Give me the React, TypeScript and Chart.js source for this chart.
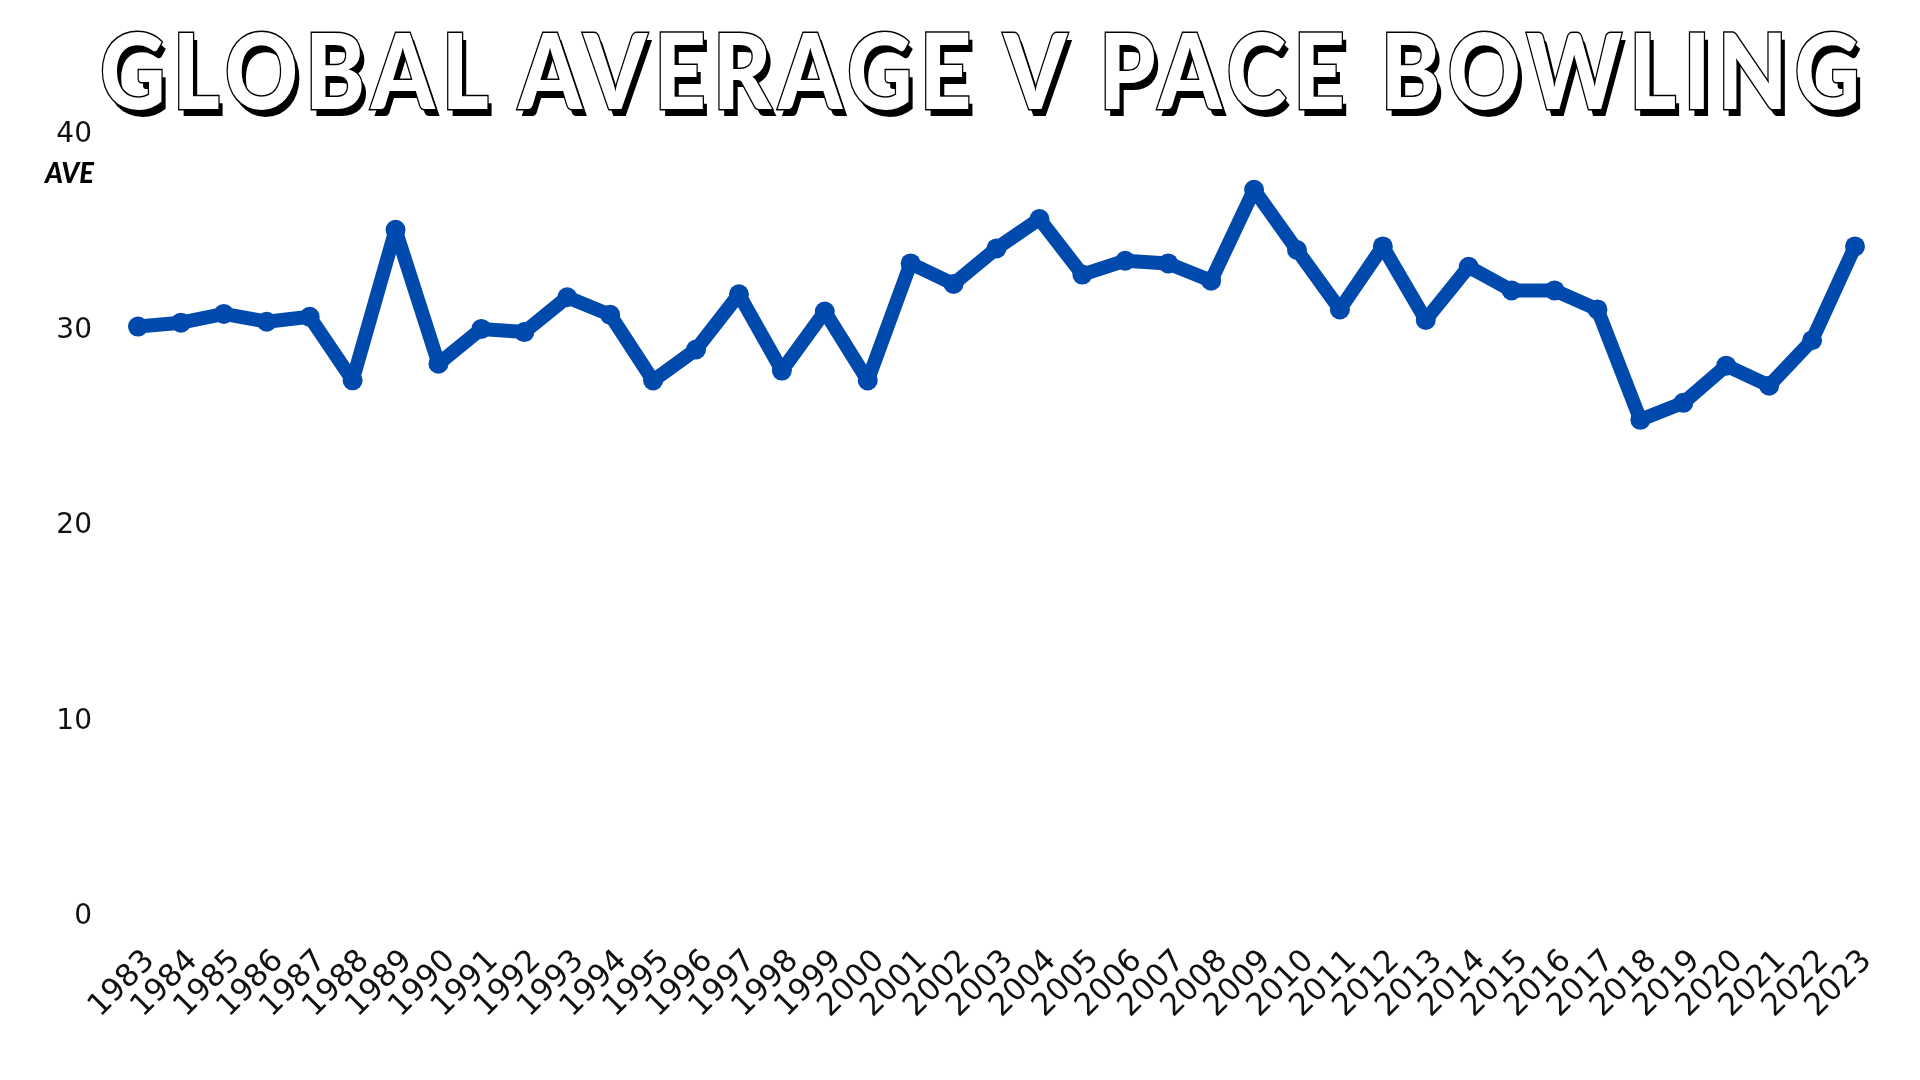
import React, { useEffect, useRef } from "react";
import { Chart, registerables } from "chart.js";

Chart.register(...registerables);

const chartTitle = "GLOBAL AVERAGE V PACE BOWLING";
const yAxisTitle = "AVE";

const years = [
  "1983", "1984", "1985", "1986", "1987", "1988", "1989", "1990", "1991", "1992",
  "1993", "1994", "1995", "1996", "1997", "1998", "1999", "2000", "2001", "2002",
  "2003", "2004", "2005", "2006", "2007", "2008", "2009", "2010", "2011", "2012",
  "2013", "2014", "2015", "2016", "2017", "2018", "2019", "2020", "2021", "2022",
  "2023",
];

const averages = [
  30.2, 30.4, 30.85, 30.45, 30.7, 27.45, 35.15, 28.3, 30.08, 29.92,
  31.7, 30.8, 27.44, 29.03, 31.85, 27.95, 30.97, 27.44, 33.43, 32.38,
  34.2, 35.7, 32.86, 33.57, 33.43, 32.55, 37.2, 34.12, 31.08, 34.3,
  30.54, 33.26, 32.05, 32.05, 31.08, 25.43, 26.3, 28.2, 27.18, 29.5,
  34.3,
];

const yMin = 0;
const yMax = 40;
const yStep = 10;

const TICK_FONT = "'DejaVu Sans', 'Open Sans', sans-serif";
const TITLE_FONT = "Lato, 'DejaVu Sans', sans-serif";

export default function App() {
  const canvasRef = useRef<HTMLCanvasElement | null>(null);
  const titleRef = useRef<HTMLSpanElement | null>(null);
  const aveRef = useRef<HTMLSpanElement | null>(null);

  useEffect(() => {
    const canvas = canvasRef.current;
    if (!canvas) return;
    const chart = new Chart(canvas, {
      type: "line",
      data: {
        labels: years,
        datasets: [
          {
            data: averages,
            borderColor: "#004AAD",
            backgroundColor: "#004AAD",
            borderWidth: 14,
            pointRadius: 10,
            pointHoverRadius: 10,
            pointBorderWidth: 0,
            tension: 0,
            borderJoinStyle: "round",
            borderCapStyle: "round",
          },
        ],
      },
      options: {
        responsive: false,
        animation: false,
        layout: { padding: { top: 135, right: 65, left: 0, bottom: 0 } },
        plugins: {
          legend: { display: false },
          tooltip: { enabled: false },
          title: { display: false },
        },
        scales: {
          x: {
            grid: { display: false, drawTicks: false },
            border: { display: false },
            ticks: {
              autoSkip: false,
              minRotation: 45,
              maxRotation: 45,
              padding: 26,
              labelOffset: 12,
              color: "#111",
              font: { family: TICK_FONT, size: 31 },
            },
            afterFit: (s: any) => {
              s.height = 163;
            },
          },
          y: {
            min: yMin,
            max: yMax,
            grid: { display: false, drawTicks: false },
            border: { display: false },
            ticks: {
              stepSize: yStep,
              padding: 46,
              color: "#111",
              font: { family: TICK_FONT, size: 28 },
            },
            afterFit: (s: any) => {
              s.width = 138;
            },
          },
        },
      },
    });

    const fit = () => {
      const t = titleRef.current;
      if (t) {
        t.style.transform = "none";
        const w = t.getBoundingClientRect().width;
        if (w > 0) t.style.transform = `scaleX(${1767 / w})`;
      }
      const a = aveRef.current;
      if (a) {
        a.style.transform = "none";
        const w = a.getBoundingClientRect().width;
        if (w > 0) a.style.transform = `scaleX(${49 / w})`;
      }
    };
    fit();
    (document as any).fonts?.ready?.then(fit);

    return () => chart.destroy();
  }, []);

  return (
    <div
      style={{
        position: "absolute",
        left: 0,
        top: 0,
        width: 1920,
        height: 1080,
        background: "#fff",
        overflow: "hidden",
      }}
    >
      <canvas ref={canvasRef} width={1920} height={1080} style={{ display: "block" }} />
      <span
        ref={titleRef}
        style={{
          position: "absolute",
          left: 100,
          top: 16,
          display: "inline-block",
          whiteSpace: "pre",
          transformOrigin: "0 0",
          fontFamily: TITLE_FONT,
          fontWeight: 900,
          fontSize: 105,
          lineHeight: "105px",
          letterSpacing: "8px",
          color: "#fff",
          WebkitTextStroke: "3px #000",
          paintOrder: "stroke fill",
          textShadow: "5px 7px 0 #000",
        }}
      >
        {chartTitle}
      </span>
      <span
        ref={aveRef}
        style={{
          position: "absolute",
          left: 45,
          top: 158,
          display: "inline-block",
          whiteSpace: "pre",
          transformOrigin: "0 0",
          fontFamily: TITLE_FONT,
          fontWeight: 900,
          fontStyle: "italic",
          fontSize: 28,
          lineHeight: "28px",
          color: "#000",
        }}
      >
        {yAxisTitle}
      </span>
    </div>
  );
}
